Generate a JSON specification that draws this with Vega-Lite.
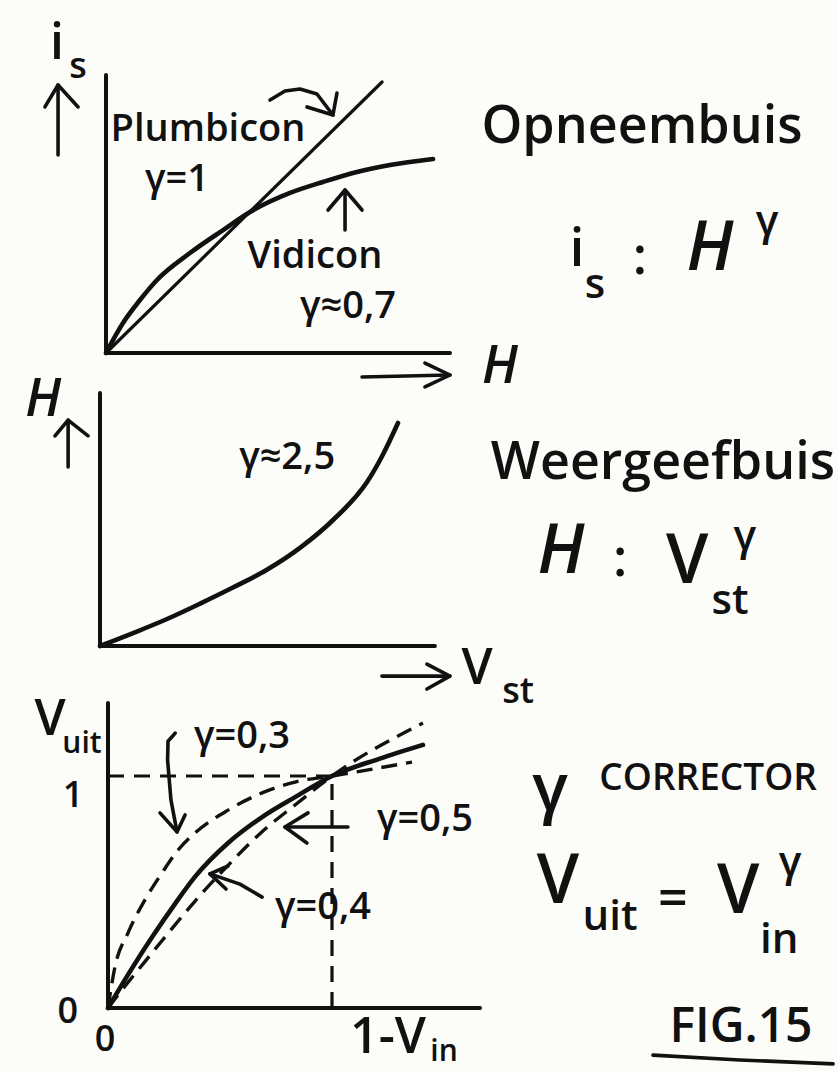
{
  "$schema": "https://vega.github.io/schema/vega-lite/v6.json",
  "background": "#fcfcf9",
  "padding": 0,
  "spacing": 0,
  "bounds": "flush",
  "config": {
    "view": {"stroke": null},
    "text": {"font": "Open Sans", "fontWeight": 600, "color": "#111111"}
  },
  "datasets": {
    "camera_axes": [
      {"H": 0, "i_s": 0, "H_end": 0, "i_s_end": 1.972},
      {"H": 0, "i_s": 0, "H_end": 2.389, "i_s_end": 0}
    ],
    "camera_curves": [
      {"tube": "Plumbicon", "H": 0, "i_s": 0},
      {"tube": "Plumbicon", "H": 1.917, "i_s": 1.922},
      {"tube": "Vidicon", "H": 0, "i_s": 0},
      {"tube": "Vidicon", "H": 0.118, "i_s": 0.213},
      {"tube": "Vidicon", "H": 0.236, "i_s": 0.376},
      {"tube": "Vidicon", "H": 0.354, "i_s": 0.518},
      {"tube": "Vidicon", "H": 0.583, "i_s": 0.709},
      {"tube": "Vidicon", "H": 0.813, "i_s": 0.872},
      {"tube": "Vidicon", "H": 1.0, "i_s": 1.0},
      {"tube": "Vidicon", "H": 1.278, "i_s": 1.135},
      {"tube": "Vidicon", "H": 1.507, "i_s": 1.213},
      {"tube": "Vidicon", "H": 1.743, "i_s": 1.284},
      {"tube": "Vidicon", "H": 1.972, "i_s": 1.333},
      {"tube": "Vidicon", "H": 2.271, "i_s": 1.376}
    ],
    "camera_arrows": [
      {"arrow": "i_s axis", "stroke": "shaft", "k": 0, "H": -0.333, "i_s": 1.404},
      {"arrow": "i_s axis", "stroke": "shaft", "k": 1, "H": -0.333, "i_s": 1.901},
      {"arrow": "i_s axis", "stroke": "head", "k": 0, "H": -0.424, "i_s": 1.745},
      {"arrow": "i_s axis", "stroke": "head", "k": 1, "H": -0.333, "i_s": 1.901},
      {"arrow": "i_s axis", "stroke": "head", "k": 2, "H": -0.194, "i_s": 1.745},
      {"arrow": "Plumbicon", "stroke": "shaft", "k": 0, "H": 1.139, "i_s": 1.794},
      {"arrow": "Plumbicon", "stroke": "shaft", "k": 1, "H": 1.243, "i_s": 1.858},
      {"arrow": "Plumbicon", "stroke": "shaft", "k": 2, "H": 1.347, "i_s": 1.872},
      {"arrow": "Plumbicon", "stroke": "shaft", "k": 3, "H": 1.465, "i_s": 1.837},
      {"arrow": "Plumbicon", "stroke": "shaft", "k": 4, "H": 1.576, "i_s": 1.688},
      {"arrow": "Plumbicon", "stroke": "head", "k": 0, "H": 1.396, "i_s": 1.745},
      {"arrow": "Plumbicon", "stroke": "head", "k": 1, "H": 1.576, "i_s": 1.688},
      {"arrow": "Plumbicon", "stroke": "head", "k": 2, "H": 1.604, "i_s": 1.844},
      {"arrow": "Vidicon", "stroke": "shaft", "k": 0, "H": 1.66, "i_s": 0.872},
      {"arrow": "Vidicon", "stroke": "shaft", "k": 1, "H": 1.66, "i_s": 1.156},
      {"arrow": "Vidicon", "stroke": "head", "k": 0, "H": 1.542, "i_s": 1.014},
      {"arrow": "Vidicon", "stroke": "head", "k": 1, "H": 1.66, "i_s": 1.156},
      {"arrow": "Vidicon", "stroke": "head", "k": 2, "H": 1.778, "i_s": 1.014},
      {"arrow": "H axis", "stroke": "shaft", "k": 0, "H": 1.778, "i_s": -0.17},
      {"arrow": "H axis", "stroke": "shaft", "k": 1, "H": 2.389, "i_s": -0.156},
      {"arrow": "H axis", "stroke": "head", "k": 0, "H": 2.215, "i_s": -0.071},
      {"arrow": "H axis", "stroke": "head", "k": 1, "H": 2.389, "i_s": -0.156},
      {"arrow": "H axis", "stroke": "head", "k": 2, "H": 2.215, "i_s": -0.241}
    ],
    "camera_text": [
      {"text": "i", "role": "axis", "H": -0.34, "i_s": 2.191},
      {"text": "s", "role": "axis-index", "H": -0.194, "i_s": 2.028},
      {"text": "Plumbicon", "role": "note", "H": 0.708, "i_s": 1.582},
      {"text": "γ=1", "role": "note", "H": 0.493, "i_s": 1.227},
      {"text": "Vidicon", "role": "note", "H": 1.451, "i_s": 0.681},
      {"text": "γ≈0,7", "role": "note", "H": 1.681, "i_s": 0.326},
      {"text": "H", "role": "axis-var", "H": 2.736, "i_s": -0.099},
      {"text": "Opneembuis", "role": "heading", "H": 3.722, "i_s": 1.603},
      {"text": "i", "role": "sym-small", "H": 3.271, "i_s": 0.73},
      {"text": "s", "role": "index", "H": 3.396, "i_s": 0.482},
      {"text": ":", "role": "sym-small", "H": 3.708, "i_s": 0.674},
      {"text": "H", "role": "symbol-var", "H": 4.194, "i_s": 0.73},
      {"text": "γ", "role": "index", "H": 4.59, "i_s": 0.929}
    ],
    "display_axes": [
      {"V_st": 0, "H": 0, "V_st_end": 0, "H_end": 1.135},
      {"V_st": 0, "H": 0, "V_st_end": 1.124, "H_end": 0}
    ],
    "display_curve": [
      {"V_st": 0, "H": 0},
      {"V_st": 0.111, "H": 0.058},
      {"V_st": 0.225, "H": 0.121},
      {"V_st": 0.336, "H": 0.19},
      {"V_st": 0.446, "H": 0.262},
      {"V_st": 0.56, "H": 0.342},
      {"V_st": 0.671, "H": 0.44},
      {"V_st": 0.782, "H": 0.565},
      {"V_st": 0.896, "H": 0.735},
      {"V_st": 0.95, "H": 0.86},
      {"V_st": 1.0, "H": 1.0}
    ],
    "display_arrows": [
      {"arrow": "H axis", "stroke": "shaft", "k": 0, "V_st": -0.107, "H": 0.803},
      {"arrow": "H axis", "stroke": "shaft", "k": 1, "V_st": -0.107, "H": 1.013},
      {"arrow": "H axis", "stroke": "head", "k": 0, "V_st": -0.151, "H": 0.942},
      {"arrow": "H axis", "stroke": "head", "k": 1, "V_st": -0.107, "H": 1.013},
      {"arrow": "H axis", "stroke": "head", "k": 2, "V_st": -0.04, "H": 0.942},
      {"arrow": "V_st axis", "stroke": "shaft", "k": 0, "V_st": 0.946, "H": -0.135},
      {"arrow": "V_st axis", "stroke": "shaft", "k": 1, "V_st": 1.174, "H": -0.135},
      {"arrow": "V_st axis", "stroke": "head", "k": 0, "V_st": 1.097, "H": -0.081},
      {"arrow": "V_st axis", "stroke": "head", "k": 1, "V_st": 1.174, "H": -0.135},
      {"arrow": "V_st axis", "stroke": "head", "k": 2, "V_st": 1.097, "H": -0.193}
    ],
    "display_text": [
      {"text": "H", "role": "axis-var", "V_st": -0.191, "H": 1.103},
      {"text": "γ≈2,5", "role": "note", "V_st": 0.628, "H": 0.843},
      {"text": "V", "role": "axis", "V_st": 1.265, "H": -0.103},
      {"text": "st", "role": "axis-index", "V_st": 1.403, "H": -0.206},
      {"text": "Weergeefbuis", "role": "heading", "V_st": 1.889, "H": 0.821},
      {"text": "H", "role": "symbol-var", "V_st": 1.547, "H": 0.417},
      {"text": ":", "role": "sym-small", "V_st": 1.745, "H": 0.386},
      {"text": "V", "role": "symbol", "V_st": 1.97, "H": 0.372},
      {"text": "γ", "role": "index", "V_st": 2.164, "H": 0.489},
      {"text": "st", "role": "index", "V_st": 2.114, "H": 0.2}
    ],
    "corrector_axes": [
      {"V_in": 0, "V_uit": 0, "V_in_end": 0, "V_uit_end": 1.315},
      {"V_in": 0, "V_uit": 0, "V_in_end": 1.661, "V_uit_end": 0}
    ],
    "corrector_guides": [
      {"V_in": 0, "V_uit": 1, "V_in_end": 1, "V_uit_end": 1},
      {"V_in": 1, "V_uit": 0, "V_in_end": 1, "V_uit_end": 1}
    ],
    "corrector_curves": [
      {"gamma": 0.3, "V_in": 0, "V_uit": 0},
      {"gamma": 0.3, "V_in": 0.031, "V_uit": 0.177},
      {"gamma": 0.3, "V_in": 0.089, "V_uit": 0.323},
      {"gamma": 0.3, "V_in": 0.165, "V_uit": 0.466},
      {"gamma": 0.3, "V_in": 0.241, "V_uit": 0.582},
      {"gamma": 0.3, "V_in": 0.313, "V_uit": 0.681},
      {"gamma": 0.3, "V_in": 0.388, "V_uit": 0.754},
      {"gamma": 0.3, "V_in": 0.536, "V_uit": 0.853},
      {"gamma": 0.3, "V_in": 0.688, "V_uit": 0.927},
      {"gamma": 0.3, "V_in": 0.835, "V_uit": 0.974},
      {"gamma": 0.3, "V_in": 1.0, "V_uit": 1.0},
      {"gamma": 0.3, "V_in": 1.357, "V_uit": 1.06},
      {"gamma": 0.4, "V_in": 0, "V_uit": 0},
      {"gamma": 0.4, "V_in": 0.1, "V_uit": 0.16},
      {"gamma": 0.4, "V_in": 0.2, "V_uit": 0.31},
      {"gamma": 0.4, "V_in": 0.3, "V_uit": 0.45},
      {"gamma": 0.4, "V_in": 0.388, "V_uit": 0.565},
      {"gamma": 0.4, "V_in": 0.536, "V_uit": 0.711},
      {"gamma": 0.4, "V_in": 0.688, "V_uit": 0.823},
      {"gamma": 0.4, "V_in": 0.835, "V_uit": 0.909},
      {"gamma": 0.4, "V_in": 1.0, "V_uit": 1.0},
      {"gamma": 0.4, "V_in": 1.214, "V_uit": 1.075},
      {"gamma": 0.4, "V_in": 1.406, "V_uit": 1.134},
      {"gamma": 0.5, "V_in": 0, "V_uit": 0},
      {"gamma": 0.5, "V_in": 0.089, "V_uit": 0.11},
      {"gamma": 0.5, "V_in": 0.165, "V_uit": 0.2},
      {"gamma": 0.5, "V_in": 0.241, "V_uit": 0.29},
      {"gamma": 0.5, "V_in": 0.388, "V_uit": 0.46},
      {"gamma": 0.5, "V_in": 0.536, "V_uit": 0.615},
      {"gamma": 0.5, "V_in": 0.688, "V_uit": 0.76},
      {"gamma": 0.5, "V_in": 0.835, "V_uit": 0.875},
      {"gamma": 0.5, "V_in": 1.0, "V_uit": 1.0},
      {"gamma": 0.5, "V_in": 1.406, "V_uit": 1.228}
    ],
    "corrector_arrows": [
      {"arrow": "γ=0,3", "stroke": "shaft", "k": 0, "V_in": 0.3, "V_uit": 1.185},
      {"arrow": "γ=0,3", "stroke": "shaft", "k": 1, "V_in": 0.268, "V_uit": 1.15},
      {"arrow": "γ=0,3", "stroke": "shaft", "k": 2, "V_in": 0.266, "V_uit": 1.069},
      {"arrow": "γ=0,3", "stroke": "shaft", "k": 3, "V_in": 0.281, "V_uit": 0.897},
      {"arrow": "γ=0,3", "stroke": "shaft", "k": 4, "V_in": 0.308, "V_uit": 0.759},
      {"arrow": "γ=0,3", "stroke": "head", "k": 0, "V_in": 0.232, "V_uit": 0.841},
      {"arrow": "γ=0,3", "stroke": "head", "k": 1, "V_in": 0.308, "V_uit": 0.759},
      {"arrow": "γ=0,3", "stroke": "head", "k": 2, "V_in": 0.344, "V_uit": 0.832},
      {"arrow": "γ=0,5", "stroke": "shaft", "k": 0, "V_in": 1.071, "V_uit": 0.78},
      {"arrow": "γ=0,5", "stroke": "shaft", "k": 1, "V_in": 0.79, "V_uit": 0.78},
      {"arrow": "γ=0,5", "stroke": "head", "k": 0, "V_in": 0.893, "V_uit": 0.841},
      {"arrow": "γ=0,5", "stroke": "head", "k": 1, "V_in": 0.79, "V_uit": 0.78},
      {"arrow": "γ=0,5", "stroke": "head", "k": 2, "V_in": 0.888, "V_uit": 0.711},
      {"arrow": "γ=0,4", "stroke": "shaft", "k": 0, "V_in": 0.688, "V_uit": 0.478},
      {"arrow": "γ=0,4", "stroke": "shaft", "k": 1, "V_in": 0.589, "V_uit": 0.534},
      {"arrow": "γ=0,4", "stroke": "shaft", "k": 2, "V_in": 0.455, "V_uit": 0.578},
      {"arrow": "γ=0,4", "stroke": "head", "k": 0, "V_in": 0.536, "V_uit": 0.612},
      {"arrow": "γ=0,4", "stroke": "head", "k": 1, "V_in": 0.455, "V_uit": 0.578},
      {"arrow": "γ=0,4", "stroke": "head", "k": 2, "V_in": 0.527, "V_uit": 0.513},
      {"arrow": "FIG.15", "stroke": "underline", "k": 0, "V_in": 2.433, "V_uit": -0.203},
      {"arrow": "FIG.15", "stroke": "underline", "k": 1, "V_in": 2.821, "V_uit": -0.224},
      {"arrow": "FIG.15", "stroke": "underline", "k": 2, "V_in": 3.237, "V_uit": -0.241}
    ],
    "corrector_text": [
      {"text": "V", "role": "axis", "V_in": -0.259, "V_uit": 1.24},
      {"text": "uit", "role": "small-index", "V_in": -0.116, "V_uit": 1.14},
      {"text": "1", "role": "tick", "V_in": -0.156, "V_uit": 0.915},
      {"text": "0", "role": "tick", "V_in": -0.179, "V_uit": -0.017},
      {"text": "0", "role": "tick", "V_in": -0.013, "V_uit": -0.138},
      {"text": "1-V", "role": "axis", "V_in": 1.25, "V_uit": -0.13},
      {"text": "in", "role": "small-index", "V_in": 1.5, "V_uit": -0.19},
      {"text": "γ=0,3", "role": "note", "V_in": 0.598, "V_uit": 1.168},
      {"text": "γ=0,5", "role": "note", "V_in": 1.415, "V_uit": 0.81},
      {"text": "γ=0,4", "role": "note", "V_in": 0.96, "V_uit": 0.431},
      {"text": "γ", "role": "big-gamma", "V_in": 1.973, "V_uit": 0.94},
      {"text": "CORRECTOR", "role": "smallcaps", "V_in": 2.679, "V_uit": 0.985},
      {"text": "V", "role": "symbol", "V_in": 2.009, "V_uit": 0.539},
      {"text": "uit", "role": "index", "V_in": 2.241, "V_uit": 0.392},
      {"text": "=", "role": "sym-small", "V_in": 2.522, "V_uit": 0.466},
      {"text": "V", "role": "symbol", "V_in": 2.813, "V_uit": 0.496},
      {"text": "γ", "role": "index", "V_in": 3.045, "V_uit": 0.625},
      {"text": "in", "role": "index", "V_in": 2.996, "V_uit": 0.293},
      {"text": "FIG.15", "role": "caption", "V_in": 2.826, "V_uit": -0.086}
    ]
  },
  "vconcat": [
    {
      "width": 838,
      "height": 375,
      "encoding": {
        "x": {"field": "H", "type": "quantitative", "scale": {"domain": [-0.7361, 5.0833], "nice": false, "zero": false}, "axis": null},
        "y": {"field": "i_s", "type": "quantitative", "scale": {"domain": [-0.156, 2.5035], "nice": false, "zero": false}, "axis": null}
      },
      "layer": [
        {
          "data": {"name": "camera_axes"},
          "mark": {"type": "rule", "strokeWidth": 4, "strokeCap": "round", "color": "#111111"},
          "encoding": {"x2": {"field": "H_end"}, "y2": {"field": "i_s_end"}}
        },
        {
          "data": {"name": "camera_curves"},
          "mark": {"type": "line", "interpolate": "monotone", "strokeCap": "round", "color": "#111111", "clip": false},
          "encoding": {
            "detail": {"field": "tube"},
            "strokeWidth": {"field": "tube", "type": "ordinal", "scale": {"type": "ordinal", "domain": ["Plumbicon", "Vidicon"], "range": [3.2, 4.6]}, "legend": null}
          }
        },
        {
          "data": {"name": "camera_arrows"},
          "mark": {"type": "line", "strokeWidth": 3.6, "strokeCap": "round", "strokeJoin": "round", "color": "#111111", "clip": false},
          "encoding": {"detail": [{"field": "arrow"}, {"field": "stroke"}], "order": {"field": "k"}}
        },
        {
          "data": {"name": "camera_text"},
          "transform": [{"filter": {"not": {"field": "role", "oneOf": ["axis-var", "symbol-var"]}}}],
          "mark": {"type": "text", "align": "center", "baseline": "middle"},
          "encoding": {
            "text": {"field": "text"},
            "size": {"field": "role", "type": "ordinal", "scale": {"type": "ordinal", "domain": ["heading", "symbol", "sym-small", "index", "axis", "axis-index", "small-index", "note", "tick", "caption", "smallcaps", "big-gamma"], "range": [52, 68, 52, 42, 50, 36, 30, 38, 36, 48, 37, 66]}, "legend": null}
          }
        },
        {
          "data": {"name": "camera_text"},
          "transform": [{"filter": {"field": "role", "oneOf": ["axis-var", "symbol-var"]}}],
          "mark": {"type": "text", "align": "center", "baseline": "middle", "fontStyle": "italic"},
          "encoding": {
            "text": {"field": "text"},
            "size": {"field": "role", "type": "ordinal", "scale": {"type": "ordinal", "domain": ["axis-var", "symbol-var"], "range": [62, 70]}, "legend": null}
          }
        }
      ]
    },
    {
      "width": 838,
      "height": 315,
      "encoding": {
        "x": {"field": "V_st", "type": "quantitative", "scale": {"domain": [-0.3356, 2.4765], "nice": false, "zero": false}, "axis": null},
        "y": {"field": "H", "type": "quantitative", "scale": {"domain": [-0.1973, 1.2152], "nice": false, "zero": false}, "axis": null}
      },
      "layer": [
        {
          "data": {"name": "display_axes"},
          "mark": {"type": "rule", "strokeWidth": 4, "strokeCap": "round", "color": "#111111"},
          "encoding": {"x2": {"field": "V_st_end"}, "y2": {"field": "H_end"}}
        },
        {
          "data": {"name": "display_curve"},
          "mark": {"type": "line", "interpolate": "monotone", "strokeWidth": 4.6, "strokeCap": "round", "color": "#111111", "clip": false},
          "encoding": {}
        },
        {
          "data": {"name": "display_arrows"},
          "mark": {"type": "line", "strokeWidth": 3.6, "strokeCap": "round", "strokeJoin": "round", "color": "#111111", "clip": false},
          "encoding": {"detail": [{"field": "arrow"}, {"field": "stroke"}], "order": {"field": "k"}}
        },
        {
          "data": {"name": "display_text"},
          "transform": [{"filter": {"not": {"field": "role", "oneOf": ["axis-var", "symbol-var"]}}}],
          "mark": {"type": "text", "align": "center", "baseline": "middle"},
          "encoding": {
            "text": {"field": "text"},
            "size": {"field": "role", "type": "ordinal", "scale": {"type": "ordinal", "domain": ["heading", "symbol", "sym-small", "index", "axis", "axis-index", "small-index", "note", "tick", "caption", "smallcaps", "big-gamma"], "range": [52, 68, 52, 42, 50, 36, 30, 38, 36, 48, 37, 66]}, "legend": null}
          }
        },
        {
          "data": {"name": "display_text"},
          "transform": [{"filter": {"field": "role", "oneOf": ["axis-var", "symbol-var"]}}],
          "mark": {"type": "text", "align": "center", "baseline": "middle", "fontStyle": "italic"},
          "encoding": {
            "text": {"field": "text"},
            "size": {"field": "role", "type": "ordinal", "scale": {"type": "ordinal", "domain": ["axis-var", "symbol-var"], "range": [62, 70]}, "legend": null}
          }
        }
      ]
    },
    {
      "width": 838,
      "height": 381,
      "encoding": {
        "x": {"field": "V_in", "type": "quantitative", "scale": {"domain": [-0.4821, 3.2589], "nice": false, "zero": false}, "axis": null},
        "y": {"field": "V_uit", "type": "quantitative", "scale": {"domain": [-0.2716, 1.3707], "nice": false, "zero": false}, "axis": null}
      },
      "layer": [
        {
          "data": {"name": "corrector_axes"},
          "mark": {"type": "rule", "strokeWidth": 4, "strokeCap": "round", "color": "#111111"},
          "encoding": {"x2": {"field": "V_in_end"}, "y2": {"field": "V_uit_end"}}
        },
        {
          "data": {"name": "corrector_guides"},
          "mark": {"type": "rule", "strokeWidth": 3.2, "strokeDash": [16, 10], "color": "#111111"},
          "encoding": {"x2": {"field": "V_in_end"}, "y2": {"field": "V_uit_end"}}
        },
        {
          "data": {"name": "corrector_curves"},
          "transform": [{"filter": "datum.gamma == 0.4"}],
          "mark": {"type": "line", "interpolate": "monotone", "strokeWidth": 4.6, "strokeCap": "round", "color": "#111111", "clip": false},
          "encoding": {}
        },
        {
          "data": {"name": "corrector_curves"},
          "transform": [{"filter": "datum.gamma != 0.4"}],
          "mark": {"type": "line", "interpolate": "monotone", "strokeWidth": 3.4, "strokeDash": [16, 9], "color": "#111111", "clip": false},
          "encoding": {"detail": {"field": "gamma"}}
        },
        {
          "data": {"name": "corrector_arrows"},
          "mark": {"type": "line", "strokeWidth": 3.6, "strokeCap": "round", "strokeJoin": "round", "color": "#111111", "clip": false},
          "encoding": {"detail": [{"field": "arrow"}, {"field": "stroke"}], "order": {"field": "k"}}
        },
        {
          "data": {"name": "corrector_text"},
          "mark": {"type": "text", "align": "center", "baseline": "middle"},
          "encoding": {
            "text": {"field": "text"},
            "size": {"field": "role", "type": "ordinal", "scale": {"type": "ordinal", "domain": ["heading", "symbol", "sym-small", "index", "axis", "axis-index", "small-index", "note", "tick", "caption", "smallcaps", "big-gamma"], "range": [52, 68, 52, 42, 50, 36, 30, 38, 36, 48, 37, 66]}, "legend": null}
          }
        }
      ]
    }
  ]
}
